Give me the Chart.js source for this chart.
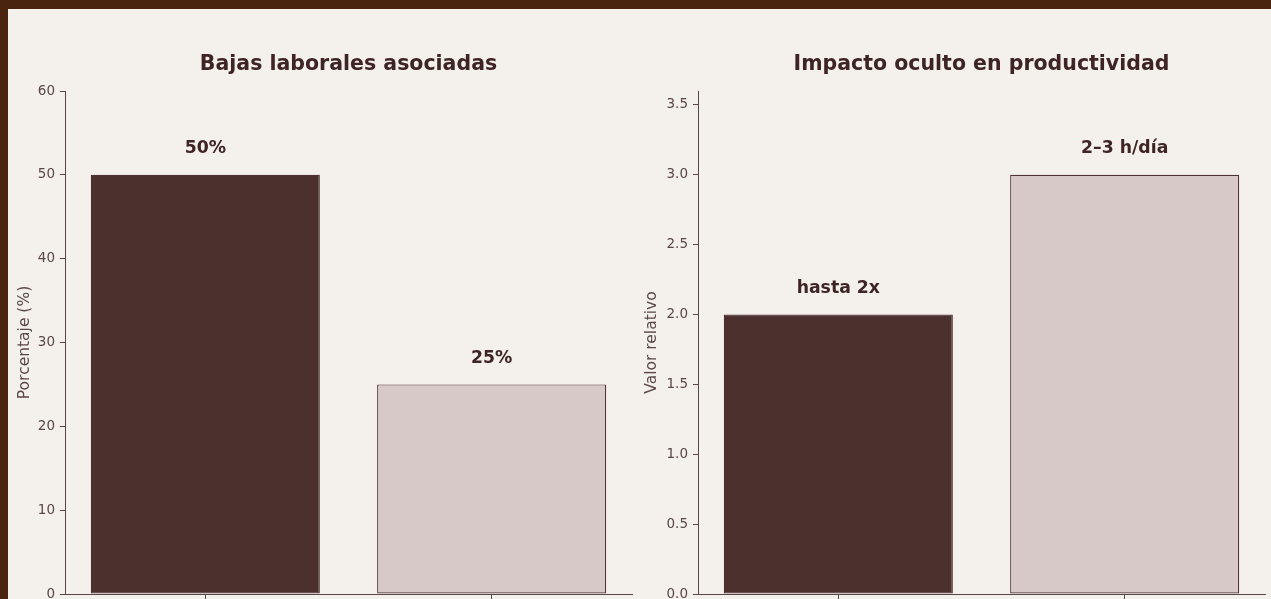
<!DOCTYPE html>
<html>
<head>
<meta charset="utf-8">
<script src="https://cdn.jsdelivr.net/npm/chart.js@4"></script>
<style>
  html, body { margin: 0; padding: 0; width: 1271px; height: 599px; overflow: hidden; background: #f4f0ec; }
  #frame { position: absolute; left: 0; top: 0; width: 1271px; height: 599px; box-sizing: border-box;
           border-top: 9px solid #4a240f; border-left: 8px solid #4a240f; background: #f4f0ec; }
  .box { position: absolute; top: 0; height: 654px; }
  #b1 { left: 8px; width: 681px; }
  #b2 { left: 640px; width: 683px; }
</style>
</head>
<body>
<div id="frame"></div>
<div class="box" id="b1"><canvas id="c1"></canvas></div>
<div class="box" id="b2"><canvas id="c2"></canvas></div>
<script>
// ---- data ----
const titles = ["Bajas laborales asociadas", "Impacto oculto en productividad"];
const leftCategories = ["Salud mental", "Otras causas"];
const leftValues = [50, 25];
const leftLabels = ["50%", "25%"];
const rightCategories = ["Rendimiento", "Tiempo perdido"];
const rightValues = [2, 3];
const rightLabels = ["hasta 2x", "2–3 h/día"];
const leftTicks = [0, 10, 20, 30, 40, 50, 60];
const rightTicks = [0, 0.5, 1.0, 1.5, 2.0, 2.5, 3.0, 3.5];
const yTitles = ["Porcentaje (%)", "Valor relativo"];

// ---- styles ----
const DARK = '#4b302d', LIGHT = '#d7c9c8', EDGE = '#4e3236';
const TEXT = '#3e2424', TICK = '#5a4848', AXIS = '#5a4646';
const FONT = "'DejaVu Sans', sans-serif";

const valueLabels = {
  id: 'valueLabels',
  afterDatasetsDraw(chart, args, opts) {
    const ctx = chart.ctx;
    const meta = chart.getDatasetMeta(0);
    ctx.save();
    ctx.font = "bold 17.3px " + FONT;
    ctx.fillStyle = TEXT;
    ctx.textAlign = 'center';
    ctx.textBaseline = 'middle';
    meta.data.forEach((bar, i) => {
      ctx.fillText(opts.labels[i], bar.x, bar.y - 26);
    });
    ctx.restore();
  }
};

function makeChart(id, title, cats, vals, labels, ticks, max, yTitle, yWidth, titlePad, fmt) {
  const points = cats.map((c, i) => ({ x: i, y: vals[i] }));
  return new Chart(document.getElementById(id), {
    type: 'bar',
    data: {
      datasets: [{
        data: points,
        backgroundColor: [DARK, LIGHT],
        borderColor: EDGE,
        borderWidth: 1.2,
        borderSkipped: false,
        categoryPercentage: 1.0,
        barPercentage: 0.8
      }]
    },
    options: {
      responsive: true,
      maintainAspectRatio: false,
      animation: false,
      layout: { padding: 0 },
      plugins: {
        legend: { display: false },
        tooltip: { enabled: false },
        title: {
          display: true, text: title, color: TEXT,
          font: { family: FONT, size: 20.5, weight: 'bold', lineHeight: 1.2 },
          padding: { top: 52.2, bottom: 14.2 }
        },
        valueLabels: { labels: labels }
      },
      scales: {
        x: {
          type: 'linear', min: -0.49, max: cats.length - 1 + 0.49, offset: false,
          grid: { display: true, drawOnChartArea: false, drawTicks: true, tickLength: 5, color: AXIS, offset: false },
          border: { display: true, color: AXIS, width: 1 },
          afterBuildTicks(s) { s.ticks = cats.map((c, i) => ({ value: i })); },
          ticks: { color: TICK, font: { family: FONT, size: 13.5 }, padding: 5,
                   callback: v => cats[v] },
          afterFit(s) { s.height = 60; }
        },
        y: {
          min: 0, max: max,
          grid: { display: true, drawOnChartArea: false, drawTicks: true, tickLength: 5, color: AXIS },
          border: { display: true, color: AXIS, width: 1 },
          afterBuildTicks(s) { s.ticks = ticks.map(v => ({ value: v })); },
          ticks: {
            color: TICK, font: { family: FONT, size: 13.5 }, padding: 5,
            callback: fmt
          },
          title: {
            display: true, text: yTitle, color: TICK,
            font: { family: FONT, size: 15.5 },
            padding: { top: titlePad, bottom: 0 }
          },
          afterFit(s) { s.width = yWidth; }
        },
        ySpacer: {
          type: 'linear', position: 'right', display: true,
          grid: { display: false }, border: { display: false },
          ticks: { display: false },
          afterFit(s) { s.width = yWidth; }
        }
      }
    },
    plugins: [valueLabels]
  });
}

makeChart('c1', titles[0], leftCategories, leftValues, leftLabels, leftTicks, 60, yTitles[0], 57, 7.3, v => String(v));
makeChart('c2', titles[1], rightCategories, rightValues, rightLabels, rightTicks, 3.6, yTitles[1], 58, 2.8, v => Number(v).toFixed(1));
</script>
</body>
</html>
